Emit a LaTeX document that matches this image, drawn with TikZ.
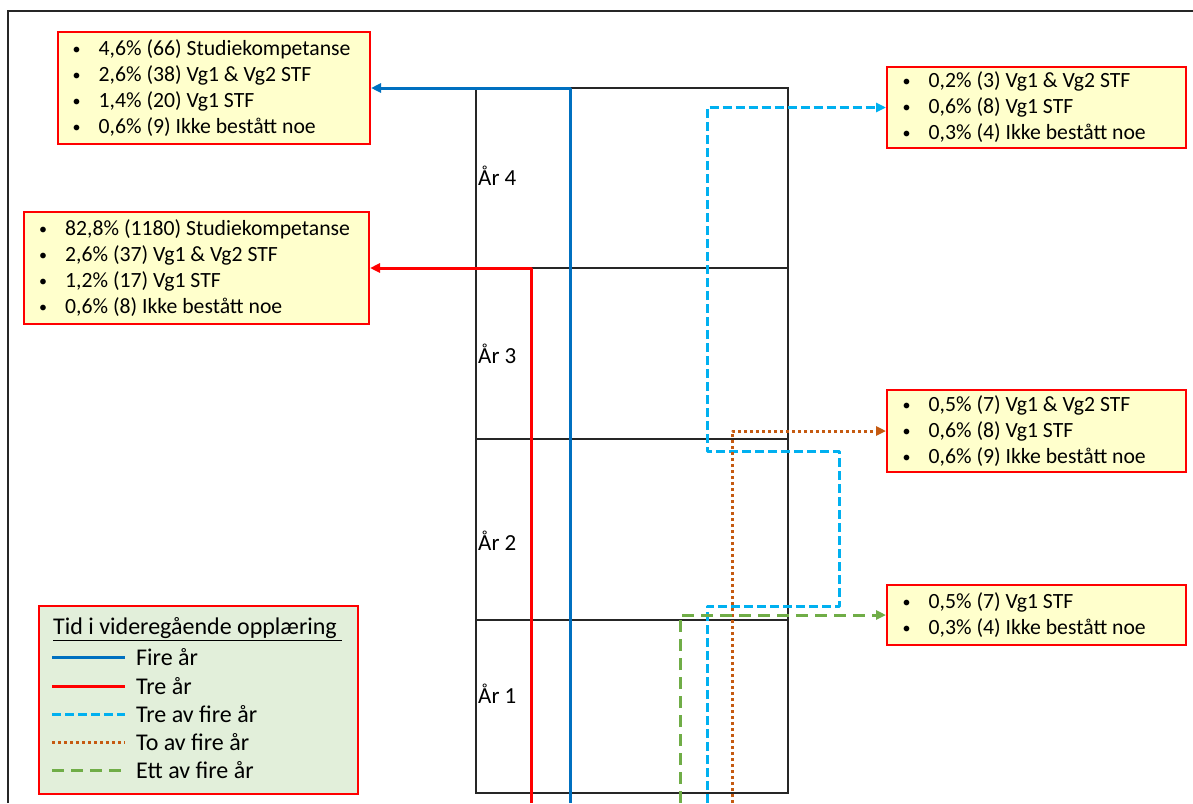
\documentclass[tikz,border=0pt]{standalone}
\usepackage{fontspec}
\setmainfont{Carlito}
\usetikzlibrary{arrows.meta}
\definecolor{cblue}{HTML}{0070C0}
\definecolor{cred}{HTML}{FF0000}
\definecolor{ccyan}{HTML}{00B0F0}
\definecolor{corange}{HTML}{C55A11}
\definecolor{cgreen}{HTML}{70AD47}
\definecolor{yfill}{HTML}{FFFFCC}
\definecolor{gfill}{HTML}{E2EFDA}
\newcommand{\bul}{\makebox[26pt][l]{\raisebox{1.2pt}{\fontsize{16}{16}\selectfont\textbullet}}}
\tikzset{
  every node/.style={font=\fontsize{21.7}{26}\selectfont},
  ybox/.style={draw=cred, line width=2pt, fill=yfill, anchor=north west, inner sep=0pt},
  btxt/.style={anchor=west, align=left, inner sep=0pt},
  yrbox/.style={draw=black!85, line width=1.8pt, anchor=north west, minimum width=312pt, inner sep=0pt},
  ylab/.style={anchor=west, inner sep=0pt, font=\fontsize{23}{26}\selectfont},
  legtxt/.style={anchor=west, inner sep=0pt, font=\fontsize{24}{28}\selectfont},
  arr/.style={-{Triangle[length=10pt,width=9pt]}, line join=round},
  fire/.style={draw=cblue, line width=3pt},
  tre/.style={draw=cred, line width=3pt},
  trefire/.style={draw=ccyan, line width=3pt, dash pattern=on 9pt off 4pt},
  tofire/.style={draw=corange, line width=3pt, dash pattern=on 3pt off 3pt},
  ettfire/.style={draw=cgreen, line width=3pt, dash pattern=on 12pt off 7pt},
}
\begin{document}
\begin{tikzpicture}[x=1pt,y=-1pt]
\useasboundingbox (0,0) rectangle (1193,803);
% outer frame (top and left edges)
\draw[line width=1.6pt, black!85] (8,803) -- (8,11) -- (1193,11);

% year column
\node[yrbox, minimum height=180pt] (y4) at (475,87) {};
\node[yrbox, minimum height=171pt] (y3) at (475,267) {};
\node[yrbox, minimum height=181pt] (y2) at (475,438) {};
\node[yrbox, minimum height=173pt] (y1) at (475,619) {};
\node[ylab] (l4) at (478,176) {År 4};
\node[ylab] (l3) at (478,354) {År 3};
\node[ylab] (l2) at (478,541) {År 2};
\node[ylab] (l1) at (478,694) {År 1};

% result boxes
\node[ybox, minimum width=312pt, minimum height=112pt] (b1) at (57,31) {};
\node[btxt] (t1) at ([xshift=15.5pt]b1.west)
  {\bul 4,6\% (66) Studiekompetanse\\ \bul 2,6\% (38) Vg1 \& Vg2 STF\\ \bul 1,4\% (20) Vg1 STF\\ \bul 0,6\% (9) Ikke bestått noe};
\node[ybox, minimum width=345pt, minimum height=112pt] (b2) at (23,211) {};
\node[btxt] (t2) at ([xshift=16pt]b2.west)
  {\bul 82,8\% (1180) Studiekompetanse\\ \bul 2,6\% (37) Vg1 \& Vg2 STF\\ \bul 1,2\% (17) Vg1 STF\\ \bul 0,6\% (8) Ikke bestått noe};
\node[ybox, minimum width=299pt, minimum height=81pt] (b3) at (886,66) {};
\node[btxt] (t3) at ([xshift=16.5pt]b3.west)
  {\bul 0,2\% (3) Vg1 \& Vg2 STF\\ \bul 0,6\% (8) Vg1 STF\\ \bul 0,3\% (4) Ikke bestått noe};
\node[ybox, minimum width=299pt, minimum height=82pt] (b4) at (886,389) {};
\node[btxt] (t4) at ([xshift=16.5pt]b4.west)
  {\bul 0,5\% (7) Vg1 \& Vg2 STF\\ \bul 0,6\% (8) Vg1 STF\\ \bul 0,6\% (9) Ikke bestått noe};
\node[ybox, minimum width=299pt, minimum height=60pt] (b5) at (886,584) {};
\node[btxt] (t5) at ([xshift=16.5pt]b5.west)
  {\bul 0,5\% (7) Vg1 STF\\ \bul 0,3\% (4) Ikke bestått noe};

% connectors
\coordinate (sBlue) at (570,803);
\coordinate (sRed) at (531,803);
\coordinate (sCyan) at (707,803);
\coordinate (sOrange) at (732,803);
\coordinate (sGreen) at (680,803);
\draw[fire, arr] (sBlue) |- (b1.east);
\draw[tre, arr] (sRed) |- (b2.east);
\draw[trefire, arr] (sCyan) -- (707,606) -- (839,606) -- (839,451) -- (707,451) |- (b3.west);
\draw[tofire, arr] (sOrange) |- (b4.west);
\draw[ettfire, arr] (sGreen) |- (b5.west);

% legend
\node[draw=cred, line width=2pt, fill=gfill, anchor=north west, minimum width=319pt, minimum height=188pt] (leg) at (38,605) {};
\node[legtxt] (legt) at (53,629) {\underline{Tid i videregående opplæring\ }};
\coordinate (la1) at (52,657); \coordinate (lb1) at (125,657);
\coordinate (la2) at (52,686); \coordinate (lb2) at (125,686);
\coordinate (la3) at (52,714); \coordinate (lb3) at (125,714);
\coordinate (la4) at (52,742); \coordinate (lb4) at (125,742);
\coordinate (la5) at (52,770); \coordinate (lb5) at (125,770);
\draw[fire] (la1) -- (lb1);
\draw[tre] (la2) -- (lb2);
\draw[trefire] (la3) -- (lb3);
\draw[tofire] (la4) -- (lb4);
\draw[ettfire] (la5) -- (lb5);
\node[legtxt] (lt1) at (136,657) {Fire år};
\node[legtxt] (lt2) at (136,686) {Tre år};
\node[legtxt] (lt3) at (136,714) {Tre av fire år};
\node[legtxt] (lt4) at (136,742) {To av fire år};
\node[legtxt] (lt5) at (136,770) {Ett av fire år};
\end{tikzpicture}
\end{document}
